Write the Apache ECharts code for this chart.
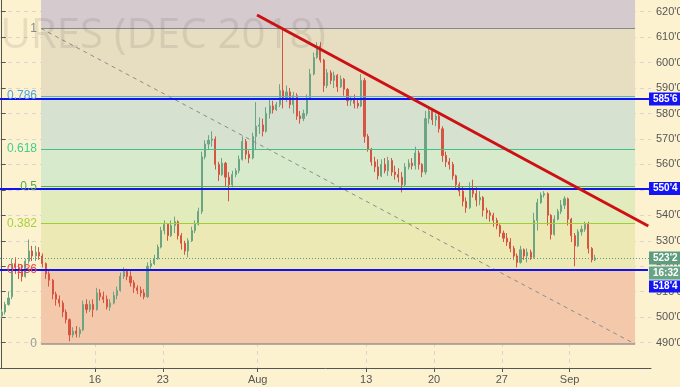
<!DOCTYPE html>
<html>
<head>
<meta charset="utf-8">
<script src="https://cdn.jsdelivr.net/npm/echarts@6/dist/echarts.min.js"></script>
<style>
  html, body { margin: 0; padding: 0; background: #fdf2cf; }
  #chart { width: 680px; height: 387px; }
</style>
</head>
<body>
<div id="chart"></div>
<script>
// time axis: 4 bars per trading day, day 0 = Jul 5
const barsPerDay = 4;
const totalBars = 192;
const tickDays = [7, 12, 19, 27, 32, 37, 42];
const tickLabels = ['16', '23', 'Aug', '13', '20', '27', 'Sep'];

// [open, close, low, high]
const candles = [
  [500.5,502,499.5,503],[502,505,501,506],[505,507.5,504.5,510],[508,521,507,523],
  [521,519.5,517,523.5],[519.5,518,515,521],[518,516,514,520.5],[516,522,515.5,523],
  [522,526,521,530.5],[526,524,522,528],[524,525.5,522,528],[525.5,524,522.5,527.5],
  [524,521,519.5,525],[521,517,515,521.5],[517,514.5,512,518],[514.5,509,507,515],
  [509,507,504.5,510],[507,505.5,504,508.5],[505.5,502,500,506.5],[502,499,497.5,503],
  [499,493,490.5,499.5],[493,494.5,492,496],[494.5,493.5,492,496.5],[493.5,495,492,496],
  [495,505,494.5,506.5],[505,503,501.5,507],[503,505,502,506.5],[505,503,500,507],
  [503,509.5,502.5,511.5],[509.5,508,506.5,511],[508,507,505.5,510],[507,504,503,508.5],
  [504,505.5,502.5,507],[505.5,508.5,505,510],[508.5,510.5,507,512],[510.5,516,510,517.5],
  [516,518,515,519.5],[518,516,514.5,519],[516,513.5,512,518],[513.5,511.5,509.5,514.5],
  [511.5,510.5,509,512.5],[510.5,509.5,508,512],[509.5,508,507,511],[508,520,507.5,521.5],
  [520,521,519,522.5],[521,523,520.5,524.5],[523,527.5,522.5,528.5],[527.5,534,527,535.5],
  [534,536.5,532.5,538],[536.5,532,530,537],[532,536,531.5,538],[536,537.5,533,539.5],
  [537.5,532,530.5,538],[532,529,526.5,533],[529,526,524.5,530],[526,530,523.5,531],
  [530,534,529.5,535.5],[534,536.5,533,538],[536.5,541.5,536,543],[541.5,563,540.5,565],
  [563,568,562,569.5],[568,569.5,566,571.5],[569.5,570,567,573],[570,560,558,571],
  [560,556,553.5,561],[556,560.5,555.5,562.5],[560.5,555,551.5,561],[555,552,545.5,557],
  [552,556,551,557.5],[556,557.5,555,558.5],[557.5,562,556.5,563.5],[562,569,561.5,571],
  [569,564,562,570],[564,562.5,560.5,565.5],[562.5,571,562,572.5],[571,575,566,584.5],
  [575,575.5,572,578.5],[575.5,573,571,578],[573,580,572.5,582.5],[580,583,578,585.5],
  [583,581.5,580,585],[581.5,583.5,581,584.5],[583.5,589,582.5,591.5],[589,586,582,613],
  [586,588.5,584.5,591],[588.5,583.5,582,590],[583.5,587,580,588.5],[587,579,577.5,588],
  [579,578,576,581],[578,580,577,581.5],[580,586,579,587.5],[586,595.5,585.5,597.5],
  [595.5,602,595,604],[602,606.5,601.5,608],[606.5,601,600,608],[601,591,588.5,601.5],
  [591,596,590,597.5],[596,593,591.5,597],[593,595,590,596.5],[595,590.5,588.5,595.5],
  [590.5,593.5,590,595],[593.5,589.5,587,594],[589.5,585,583,590],[585,585.5,583,587],
  [585.5,584,582,587.5],[584,583,582,586],[583,593,582.5,595.5],[593,571,568.5,594],
  [571,566,565,572],[566,561,559.5,566.5],[561,559,557,563],[559,555.5,554,562],
  [555.5,560,555,562],[560,557.5,556.5,562.5],[557.5,561.5,555.5,563],[561.5,557,555.5,562.5],
  [557,556,554,559.5],[556,555,553,558.5],[555,552,549,557],[552,559,551.5,560.5],
  [559,560.5,558,562],[560.5,559.5,558,562.5],[559.5,564.5,558,567],[564.5,560,558,565.5],
  [560,557,555,560.5],[557,578,556,581],[578,581,576,582.5],[581,577.5,575.5,581.5],
  [577.5,579,575,580],[579,574,572.5,580],[574,563.5,561,575],[563.5,561,559,565],
  [561,560,558,562.5],[560,555.5,554,561],[555.5,552,550.5,556],[552,549.5,547.5,553],
  [549.5,545.5,543.5,551.5],[545.5,543,541,547],[543,550,542.5,553],[550,548.5,547,554],
  [548.5,546,543.5,551],[546,547,544,549.5],[547,542,539.5,547.5],[542,541,538.5,543],
  [541,540,537.5,542],[540,538,535.5,541],[538,536,534.5,539],[536,533,531.5,536.5],
  [533,531,529.5,534],[531,529.5,528,533],[529.5,527,525.5,531],[527,524,522.5,528],
  [524,521.5,519.5,525],[521.5,526.5,521,528],[526.5,524,522.5,527],[524,525.5,521.5,527],
  [525.5,523.5,522.5,526.5],[523.5,538,523,541],[538,545,534,546.5],[545,548,544.5,549],
  [548,548.5,547,549.5],[548.5,540,536,549],[540,532.5,530.5,540.5],[532.5,538.5,532,540],
  [538.5,541.5,538,542.5],[541.5,544,540.5,546],[544,546.5,542.5,547.5],[546.5,538.5,536,547],
  [538.5,532,529.5,539],[532,528,520,533],[528,533.5,527.5,534.5],[533.5,534.5,532,536],
  [534.5,536.5,533.5,537.5],[536.5,527,525,537.5],[527,522.5,521.5,527.5],[522.5,523.25,522,524.5]
];

// fibonacci retracement tool
const fibLow = 489.4;
const fibHigh = 613.4;
const fibStartBar = 11.6;
const fibEndBar = 186.8;
const fibRatios = [0, 0.236, 0.382, 0.5, 0.618, 0.786, 1];
const fibLabels = ['0', '0.236', '0.382', '0.5', '0.618', '0.786', '1'];
const fibLineColors = ['#9d9590', '#f0473c', '#9fcf2e', '#4cb34f', '#41c08a', '#5aaedc', '#878787'];
const fibLabelColors = ['#9a9a9a', '#f0473c', '#a5d13b', '#4caf50', '#3ecf8e', '#4ba3e0', '#8a8a8a'];
const fibBandColors = ['#f4c8aa', '#ece9b4', '#e1ebbb', '#d7eacb', '#d6e1d0', '#e7dec1', '#d5cacd'];

// horizontal levels, last price, trend line
const levels = [585.75, 550.5, 518.5];
const levelLabels = ["585'6", "550'4", "518'4"];
const lastPrice = 523.25;
const lastLabel = "523'2";
const countdown = '16:32';
const trendStart = [75.3, 618.7];
const trendEnd = [190.7, 535.8];

const yMin = 480, yMax = 625;

const fibPrice = r => fibLow + r * (fibHigh - fibLow);
const bandEdges = fibRatios.map(fibPrice).concat([yMax]);

const areaData = fibBandColors.map((c, i) => [
  { xAxis: fibStartBar, yAxis: bandEdges[i], itemStyle: { color: c, opacity: 1 } },
  { xAxis: fibEndBar, yAxis: bandEdges[i + 1] }
]);

const tagLabel = (text, bg, dy) => ({
  show: true, position: 'end', distance: -2, formatter: text,
  backgroundColor: bg, color: '#fff', fontSize: 10, fontWeight: 'bold',
  padding: [2, 6, 1, 4], offset: [0, dy || 0]
});

const lineData = [];
fibRatios.forEach((r, i) => {
  const p = fibPrice(r);
  lineData.push([
    { coord: [fibStartBar, p],
      lineStyle: { color: fibLineColors[i], width: r === 0 ? 1.5 : 1, type: 'solid' },
      label: { show: true, position: 'start', distance: 4, formatter: fibLabels[i],
               color: fibLabelColors[i], fontSize: 12 } },
    { coord: [fibEndBar, p] }
  ]);
});
lineData.push([
  { coord: [fibStartBar, fibHigh], lineStyle: { color: '#8c8c8c', width: 1, type: [4, 4] }, label: { show: false } },
  { coord: [fibEndBar, fibLow] }
]);
lineData.push({ yAxis: lastPrice, lineStyle: { color: '#5d9d7e', width: 1, type: [1, 2] },
  label: tagLabel(lastLabel, '#5d9d7e') });
levels.forEach((v, i) => {
  lineData.push({ yAxis: v, lineStyle: { color: '#1212ee', width: 2, type: 'solid' },
    label: tagLabel(levelLabels[i], '#1414f5', i === 2 ? 16 : 0) });
});
lineData.push({ yAxis: lastPrice, lineStyle: { color: 'rgba(0,0,0,0)', width: 1 },
  label: Object.assign(tagLabel(countdown, '#6aa486', 15), { borderColor: '#e8f2ec', borderWidth: 1 }) });
lineData.push([
  { coord: trendStart, lineStyle: { color: '#cc1014', width: 3, type: 'solid' }, label: { show: false } },
  { coord: trendEnd }
]);

const tickValues = tickDays.map(d => d * barsPerDay - 0.5);
const gridLine = { show: true, lineStyle: { color: 'rgba(150,160,210,0.35)', type: [4, 4], width: 1 } };

const chart = echarts.init(document.getElementById('chart'));
chart.setOption({
  animation: false,
  backgroundColor: '#fdf2cf',
  textStyle: { fontFamily: 'Liberation Sans, Arial, sans-serif' },
  grid: { left: 0, right: 29, top: -1, bottom: 19, outerBoundsMode: 'none', containLabel: false },
  graphic: [{
    type: 'text', z: 100, x: 326, y: 36,
    style: { text: 'WHEAT FUTURES (DEC 2018)', align: 'right', verticalAlign: 'middle',
             font: '42px "Open Sans"', fill: 'rgba(90,80,80,0.13)' }
  }],
  xAxis: {
    type: 'value', min: -0.5, max: totalBars - 0.5,
    axisLine: { lineStyle: { color: '#555' } },
    axisTick: { show: true, length: 4, customValues: tickValues, lineStyle: { color: '#555' } },
    axisLabel: {
      customValues: tickValues, color: '#555', fontSize: 11, margin: 6,
      formatter: v => tickLabels[tickValues.indexOf(v)] || ''
    },
    splitLine: gridLine
  },
  yAxis: {
    type: 'value', position: 'right', min: yMin, max: yMax, interval: 10,
    axisLine: { show: true, lineStyle: { color: '#555' } },
    axisTick: { show: true, length: 4, lineStyle: { color: '#555' } },
    axisLabel: {
      color: '#555', fontSize: 11, margin: 5,
      formatter: v => (v % 10 === 0 && v > yMin) ? v + "'0" : ''
    },
    splitLine: gridLine
  },
  series: [{
    type: 'candlestick',
    data: candles.map((c, i) => [i, c[0], c[1], c[2], c[3]]),
    barWidth: 1.6,
    itemStyle: { color: '#6ba583', color0: '#d75442', borderColor: '#6ba583', borderColor0: '#d75442', borderWidth: 1 },
    emphasis: { disabled: true },
    markArea: { silent: true, data: areaData },
    markLine: { silent: true, symbol: ['none', 'none'], animation: false, data: lineData }
  }]
});
</script>
</body>
</html>
